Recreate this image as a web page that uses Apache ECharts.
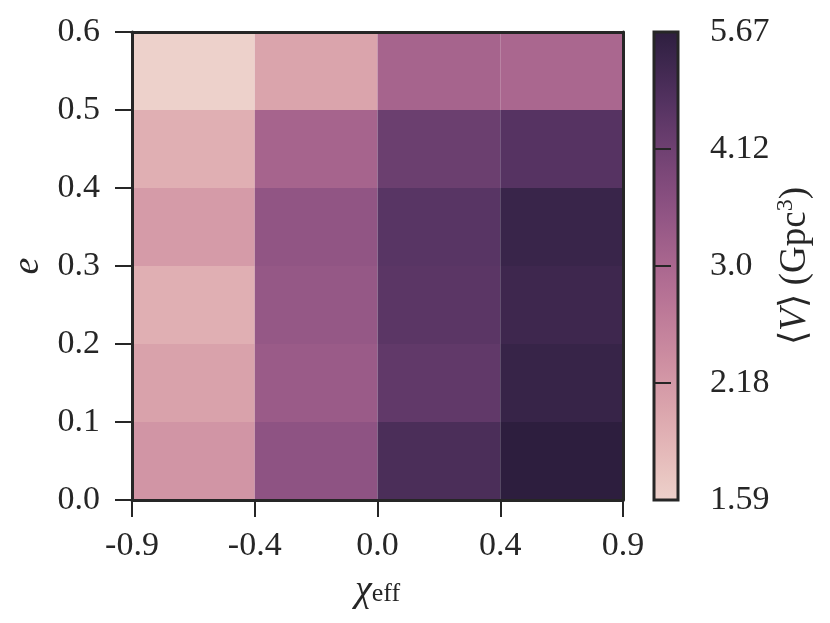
<!DOCTYPE html>
<html>
<head>
<meta charset="utf-8">
<script src="https://cdn.jsdelivr.net/npm/echarts/dist/echarts.min.js"></script>
<style>
  html, body { margin: 0; background: #fff; }
  #chart { width: 830px; height: 623px; }
</style>
</head>
<body>
<div id="chart"></div>
<script>
// chi_eff bin edges (x) and e bin edges (y)
var xTickLabels = ['-0.9', '-0.4', '0.0', '0.4', '0.9']
var yBinEdges = [0, 0.1, 0.2, 0.3, 0.4, 0.5, 0.6]
// <V> (Gpc^3), one row per e bin from bottom to top, one column per chi_eff bin
var volRow0 = [2.24, 3.50, 4.87, 5.67]
var volRow1 = [2.08, 3.28, 4.40, 5.39]
var volRow2 = [1.92, 3.37, 4.51, 5.19]
var volRow3 = [2.16, 3.45, 4.57, 5.32]
var volRow4 = [1.92, 3.08, 4.18, 4.63]
var volRow5 = [1.59, 2.05, 3.08, 3.00]
var volRows = [volRow0, volRow1, volRow2, volRow3, volRow4, volRow5]
// colorbar (log scale)
var cbarTickLabels = ['1.59', '2.18', '3.0', '4.12', '5.67']
var vMin = 1.59
var vMax = 5.67

var ink = '#262626'
var font = 'Liberation Serif'
var fs = 34

// seaborn cubehelix_palette defaults (start 0, rot .4, hue .8, light .85, dark .15)
function cubehelix(x) {
  var a = 0.8 * x * (1 - x) / 2
  var phi = 2 * Math.PI * 0.4 * x
  var c = Math.cos(phi)
  var s = Math.sin(phi)
  var rgb = [
    x + a * (-0.14861 * c + 1.78277 * s),
    x + a * (-0.29227 * c - 0.90649 * s),
    x + a * (1.97294 * c)
  ].map(function(v) {
    return Math.round(Math.max(0, Math.min(1, v)) * 255)
  })
  return 'rgb(' + rgb.join(',') + ')'
}
var palette = []
for (var k = 0; k <= 20; k++) {
  palette.push(cubehelix(0.85 - 0.7 * k / 20))
}
var gradStops = palette.map(function(col, k) {
  return { offset: k / 20, color: col }
})

var cells = []
volRows.forEach(function(row, j) {
  row.forEach(function(v, i) {
    cells.push([i, yBinEdges[j], yBinEdges[j + 1], v, Math.log(v)])
  })
})

var chart = echarts.init(document.getElementById('chart'))
var noAxis = { show: false }
var frameLine = { show: true, onZero: false, lineStyle: { color: ink, width: 3 } }
var tick = { show: true, length: 17, lineStyle: { color: ink, width: 2 } }
var option = {
  animation: false,
  textStyle: { fontFamily: font, color: ink },
  grid: [
    { left: 132, top: 32, width: 491, height: 468 },
    { left: 654, top: 32, width: 24, height: 468 }
  ],
  xAxis: [
    {
      type: 'value', gridIndex: 0, min: 0, max: 4, interval: 1, z: 10,
      axisLine: frameLine,
      axisTick: tick,
      splitLine: noAxis,
      axisLabel: {
        margin: 29, fontSize: fs, fontFamily: font, color: ink,
        formatter: function(v) { return xTickLabels[v] }
      },
      name: '{chi|χ}{sub|eff}',
      nameLocation: 'middle',
      nameGap: 72,
      nameTextStyle: {
        rich: {
          chi: { fontSize: 38, fontStyle: 'italic', fontFamily: font, color: ink },
          sub: { fontSize: 26, fontFamily: font, color: ink, padding: [6, 0, 0, 0] }
        }
      }
    },
    {
      type: 'value', gridIndex: 0, min: 0, max: 4, position: 'top', z: 10,
      axisLine: frameLine,
      axisTick: noAxis, axisLabel: noAxis, splitLine: noAxis
    },
    { type: 'value', gridIndex: 1, min: 0, max: 1, show: false }
  ],
  yAxis: [
    {
      type: 'value', gridIndex: 0, min: 0, max: 0.6, interval: 0.1, z: 10,
      axisLine: frameLine,
      axisTick: tick,
      splitLine: noAxis,
      axisLabel: {
        margin: 32, fontSize: fs, fontFamily: font, color: ink,
        formatter: function(v) { return v.toFixed(1) }
      },
      name: 'e',
      nameLocation: 'middle',
      nameGap: 82,
      nameRotate: 90,
      nameTextStyle: { fontSize: 38, fontStyle: 'italic', fontFamily: font, color: ink }
    },
    {
      type: 'value', gridIndex: 0, min: 0, max: 0.6, position: 'right', z: 10,
      axisLine: frameLine,
      axisTick: noAxis, axisLabel: noAxis, splitLine: noAxis
    },
    {
      type: 'value', gridIndex: 1, min: 0, max: cbarTickLabels.length - 1, interval: 1,
      position: 'right', z: 10,
      axisLine: noAxis,
      axisTick: tick,
      splitLine: noAxis,
      axisLabel: {
        margin: 32, fontSize: fs, fontFamily: font, color: ink,
        formatter: function(v) { return cbarTickLabels[v] }
      },
      name: '{t|⟨}{v|V}{t|⟩ (Gpc}{sup|3}{t|)}',
      nameLocation: 'middle',
      nameGap: 96,
      nameRotate: 90,
      nameTextStyle: {
        rich: {
          t: { fontSize: 37, fontFamily: font, color: ink },
          v: { fontSize: 37, fontStyle: 'italic', fontFamily: font, color: ink },
          sup: { fontSize: 24, fontFamily: font, color: ink, padding: [0, 0, 18, 0] }
        }
      }
    }
  ],
  visualMap: {
    show: false,
    type: 'continuous',
    seriesIndex: 0,
    dimension: 4,
    min: Math.log(vMin),
    max: Math.log(vMax),
    inRange: { color: palette }
  },
  series: [
    {
      type: 'custom',
      xAxisIndex: 0,
      yAxisIndex: 0,
      data: cells,
      encode: { x: 0, y: 1 },
      renderItem: function(params, api) {
        var p0 = api.coord([api.value(0), api.value(1)])
        var p1 = api.coord([api.value(0) + 1, api.value(2)])
        return {
          type: 'rect',
          shape: { x: p0[0], y: p1[1], width: p1[0] - p0[0], height: p0[1] - p1[1] },
          style: { fill: api.visual('color') }
        }
      }
    },
    {
      type: 'custom',
      xAxisIndex: 2,
      yAxisIndex: 2,
      data: [[0, 0, 1, cbarTickLabels.length - 1]],
      renderItem: function(params, api) {
        var p0 = api.coord([api.value(0), api.value(1)])
        var p1 = api.coord([api.value(2), api.value(3)])
        return {
          type: 'rect',
          shape: { x: p0[0], y: p1[1], width: p1[0] - p0[0], height: p0[1] - p1[1] },
          style: {
            fill: new echarts.graphic.LinearGradient(0, 1, 0, 0, gradStops),
            stroke: ink,
            lineWidth: 3
          }
        }
      }
    }
  ]
}
chart.setOption(option)
</script>
</body>
</html>
